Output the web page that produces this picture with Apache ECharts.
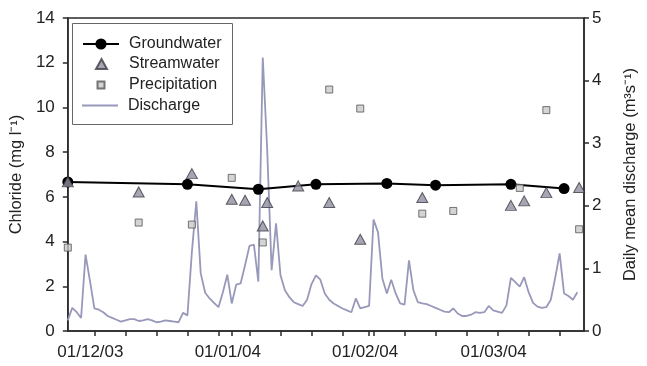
<!DOCTYPE html>
<html>
<head>
<meta charset="utf-8">
<script src="https://cdn.jsdelivr.net/npm/echarts@6/dist/echarts.min.js"></script>
<style>
    html, body { margin: 0; padding: 0; background: #fff; }
    #chart { width: 647px; height: 366px; }
</style>
</head>
<body>
<div id="chart"></div>
<script>
// days counted from 01/12/03
const monthDays = [0, 31, 62, 91];
const monthLabels = ['01/12/03', '01/01/04', '01/02/04', '01/03/04'];

const groundDays = [-6, 21, 37, 50, 66, 77, 94, 106];
const groundCl = [6.67, 6.56, 6.34, 6.56, 6.6, 6.52, 6.56, 6.37];

const streamDays = [-6, 10, 22, 31, 34, 38, 39, 46, 53, 60, 74, 94, 97, 102, 109.4];
const streamCl = [6.67, 6.22, 7.04, 5.89, 5.85, 4.7, 5.75, 6.49, 5.75, 4.1, 5.97, 5.62, 5.82, 6.19, 6.42];

const precipDays = [-6, 10, 22, 31, 38, 53, 60, 74, 81, 96, 102, 109.4];
const precipCl = [3.73, 4.85, 4.76, 6.85, 3.96, 10.8, 9.95, 5.25, 5.37, 6.4, 9.88, 4.55];

// daily mean discharge (m3/s), 25/11/03 .. 19/03/04
const dischargeStart = -6;
const dischargeFlow = [
    0.17, 0.37, 0.3, 0.21, 1.22, 0.8, 0.36, 0.34, 0.3, 0.24,
    0.21, 0.18, 0.15, 0.17, 0.19, 0.19, 0.16, 0.17, 0.19, 0.17,
    0.14, 0.15, 0.17, 0.16, 0.15, 0.14, 0.29, 0.25, 1.26, 2.07,
    0.92, 0.61, 0.52, 0.45, 0.38, 0.62, 0.9, 0.44, 0.74, 0.76,
    1.05, 1.36, 1.38, 0.79, 4.37, 2.9, 0.97, 1.72, 0.89, 0.65,
    0.54, 0.46, 0.43, 0.4, 0.5, 0.75, 0.89, 0.82, 0.6, 0.5,
    0.44, 0.4, 0.36, 0.33, 0.3, 0.52, 0.36, 0.38, 0.4, 1.78,
    1.58, 0.84, 0.6, 0.82, 0.6, 0.44, 0.42, 1.13, 0.65, 0.46,
    0.44, 0.43, 0.4, 0.37, 0.34, 0.31, 0.3, 0.36, 0.28, 0.24,
    0.24, 0.26, 0.3, 0.29, 0.3, 0.4, 0.33, 0.31, 0.29, 0.41,
    0.85, 0.78, 0.71, 0.86, 0.62, 0.45, 0.39, 0.37, 0.38, 0.5,
    0.85, 1.24, 0.6, 0.56, 0.5, 0.62
];

const weekTicks = [];
for (let d = 0; d <= 105; d += 7) weekTicks.push(d);

const pairs = (xs, ys) => xs.map((x, i) => [x, ys[i]]);
const font = 'Liberation Sans, Arial, sans-serif';
const axisColor = '#2a2a2a';
const textColor = '#222';

// one legend per row so each marker keeps its own size
function legendRow(name, top, left, w, h, textPad, icon) {
    return {
        orient: 'vertical',
        left: left,
        top: top,
        padding: 0,
        itemWidth: w,
        itemHeight: h,
        textStyle: { fontFamily: font, fontSize: 16, color: textColor, padding: [0, 0, 0, textPad] },
        data: [icon ? { name: name, icon: icon } : name]
    };
}

const tick = { show: true, length: 5, lineStyle: { color: axisColor, width: 1.5 } };

const option = {
    backgroundColor: '#fff',
    animation: false,
    grid: {
        left: 67,
        right: 58,
        top: 18,
        bottom: 35,
        show: true,
        borderColor: axisColor,
        borderWidth: 1.5
    },
    graphic: [
        {
            type: 'rect',
            left: 72,
            top: 23,
            shape: { width: 160, height: 101 },
            style: { fill: 'rgba(255,255,255,0)', stroke: '#666', lineWidth: 1 },
            z: 10
        }
    ],
    legend: [
        legendRow('Groundwater', 36, 82, 36, 14, 5),
        legendRow('Streamwater', 56, 95, 11, 10, 17),
        legendRow('Precipitation', 77, 96.5, 7, 7, 19.5),
        legendRow('Discharge', 97.5, 82, 36, 2, 5, 'rect')
    ],
    xAxis: {
        type: 'value',
        min: -6,
        max: 110.5,
        splitLine: { show: false },
        axisLine: { onZero: false, lineStyle: { color: axisColor, width: 1.5 } },
        axisTick: Object.assign({ customValues: weekTicks.concat([31, 62]) }, tick),
        axisLabel: {
            customValues: monthDays,
            formatter: v => monthLabels[monthDays.indexOf(v)],
            margin: 13,
            padding: [0, 8, 0, 0],
            fontFamily: font,
            fontSize: 17,
            color: textColor
        }
    },
    yAxis: [
        {
            type: 'value',
            min: 0,
            max: 14,
            interval: 2,
            name: 'Chloride (mg l⁻¹)',
            nameLocation: 'middle',
            nameRotate: 90,
            nameGap: 37,
            nameTextStyle: { fontFamily: font, fontSize: 16.5, color: textColor },
            splitLine: { show: false },
            axisLine: { show: true, onZero: false, lineStyle: { color: axisColor, width: 1.5 } },
            axisTick: tick,
            axisLabel: { margin: 13, fontFamily: font, fontSize: 17, color: textColor }
        },
        {
            type: 'value',
            min: 0,
            max: 5,
            interval: 1,
            position: 'right',
            name: 'Daily mean discharge (m³s⁻¹)',
            nameLocation: 'middle',
            nameRotate: 90,
            nameGap: 38,
            nameTextStyle: { fontFamily: font, fontSize: 16.5, color: textColor },
            splitLine: { show: false },
            axisLine: { show: true, onZero: false, lineStyle: { color: axisColor, width: 1.5 } },
            axisTick: tick,
            axisLabel: { margin: 8, fontFamily: font, fontSize: 17, color: textColor }
        }
    ],
    series: [
        {
            name: 'Discharge',
            type: 'line',
            yAxisIndex: 1,
            showSymbol: false,
            symbol: 'none',
            data: dischargeFlow.map((v, i) => [dischargeStart + i, v]),
            lineStyle: { color: '#9898ba', width: 1.8 },
            itemStyle: { color: '#9898ba' },
            z: 1
        },
        {
            name: 'Groundwater',
            type: 'line',
            yAxisIndex: 0,
            symbol: 'circle',
            symbolSize: 11,
            clip: false,
            data: pairs(groundDays, groundCl),
            lineStyle: { color: '#000', width: 2 },
            itemStyle: { color: '#000' },
            z: 3
        },
        {
            name: 'Streamwater',
            type: 'scatter',
            yAxisIndex: 0,
            symbol: 'triangle',
            symbolSize: [11, 10],
            clip: false,
            data: pairs(streamDays, streamCl),
            itemStyle: { color: '#8e8ea0', borderColor: '#3c3c44', borderWidth: 1 },
            z: 4
        },
        {
            name: 'Precipitation',
            type: 'scatter',
            yAxisIndex: 0,
            symbol: 'rect',
            symbolSize: 7,
            clip: false,
            data: pairs(precipDays, precipCl),
            itemStyle: { color: '#c9c9c9', borderColor: '#555', borderWidth: 1 },
            z: 4
        }
    ]
};

const chart = echarts.init(document.getElementById('chart'));
chart.setOption(option);
</script>
</body>
</html>
